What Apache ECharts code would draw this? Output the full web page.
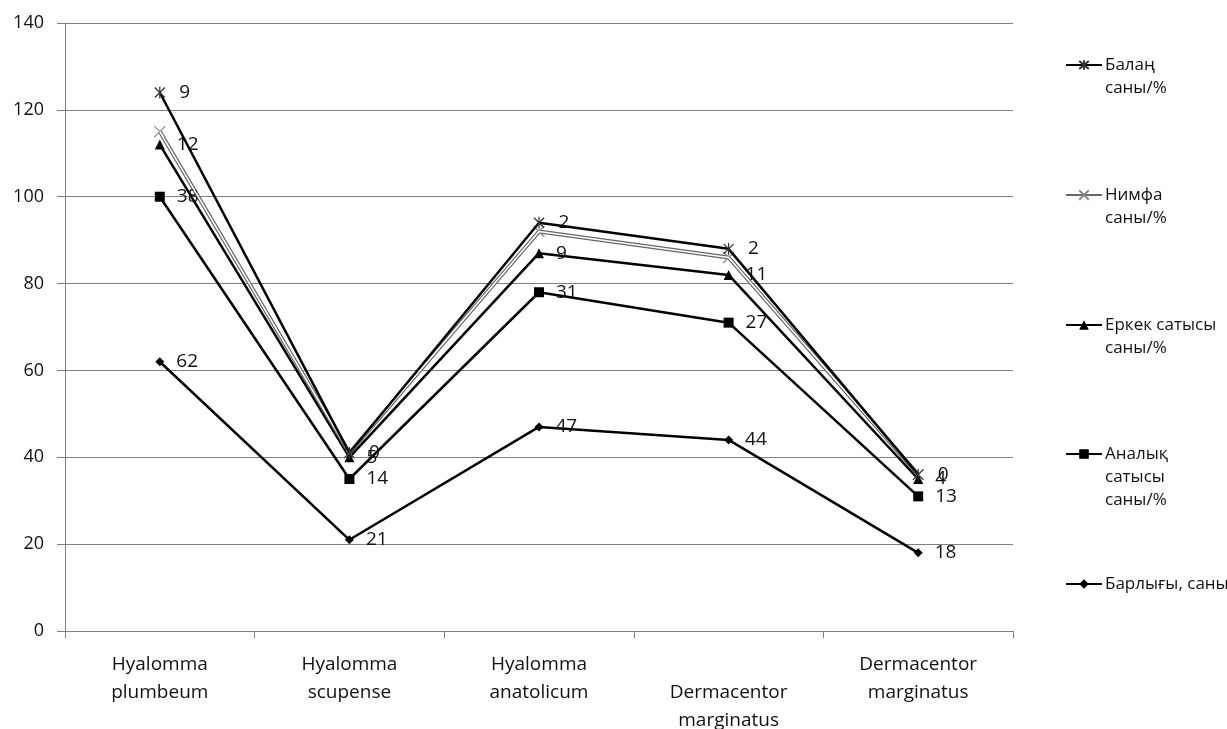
<!DOCTYPE html>
<html><head><meta charset="utf-8">
<script src="https://cdn.jsdelivr.net/npm/echarts@6/dist/echarts.min.js"></script>
<style>html,body{margin:0;padding:0;background:#fff}#c{width:1227px;height:729px}</style>
</head><body><div id="c"></div>
<script>
const categories = ['Hyalomma plumbeum','Hyalomma scupense','Hyalomma anatolicum','Dermacentor marginatus','Dermacentor marginatus '];
const barlygy = [62, 21, 47, 44, 18];
const analyq = [38, 14, 31, 27, 13];
const erkek = [12, 5, 9, 11, 4];
const nimfa = [3, 1, 5, 4, 1];
const balan = [9, 0, 2, 2, 0];
const yTicks = {min: 0, max: 140, interval: 20};

const names = {
  balan: 'Балаң саны/%',
  nimfa: 'Нимфа саны/%',
  erkek: 'Еркек сатысы саны/%',
  analyq: 'Аналық сатысы саны/%',
  barlygy: 'Барлығы, саны'
};
const legendText = {
  'Балаң саны/%': 'Балаң\nсаны/%',
  'Нимфа саны/%': 'Нимфа\nсаны/%',
  'Еркек сатысы саны/%': 'Еркек сатысы\nсаны/%',
  'Аналық сатысы саны/%': 'Аналық\nсатысы\nсаны/%',
  'Барлығы, саны': 'Барлығы, саны'
};
const FONT = 'Open Sans';
const LH = 23;
const lbl = {show: true, position: 'right', distance: 12, color: '#111', fontSize: 19, fontFamily: FONT};

function mkLegend(name, iconY) {
  const n = legendText[name].split('\n').length;
  return {
    data: [name], orient: 'vertical', left: 1065, top: iconY - (2 * n - 1) * LH / 2,
    padding: 0, itemWidth: 36, itemHeight: 12, itemGap: 0,
    textStyle: {fontSize: 17, fontFamily: FONT, color: '#111', lineHeight: LH, padding: [0, 0, 0, -2]},
    formatter: nm => '\n'.repeat(n - 1) + legendText[nm],
    align: 'left'
  };
}

const chart = echarts.init(document.getElementById('c'), null, {renderer: 'canvas'});
chart.setOption({
  animation: false,
  grid: {left: 65, right: 214, top: 23, bottom: 98, outerBoundsMode: 'none', containLabel: false},
  legend: [
    mkLegend(names.balan, 65),
    mkLegend(names.nimfa, 195),
    mkLegend(names.erkek, 325),
    mkLegend(names.analyq, 454),
    mkLegend(names.barlygy, 584)
  ],
  xAxis: {
    type: 'category', data: categories, boundaryGap: true,
    axisLine: {lineStyle: {color: '#808080', width: 1}},
    axisTick: {show: true, length: 7, lineStyle: {color: '#808080'}},
    axisLabel: {color: '#111', fontSize: 19, fontFamily: FONT, margin: 20, lineHeight: 28,
      formatter: (v, i) => (i === 3 ? '\n' : '') + v.trim().replace(' ', '\n')}
  },
  yAxis: {
    type: 'value', min: yTicks.min, max: yTicks.max, interval: yTicks.interval,
    axisLine: {show: true, lineStyle: {color: '#808080'}},
    axisTick: {show: true, length: 8, lineStyle: {color: '#808080'}},
    splitLine: {lineStyle: {color: '#808080', width: 1}},
    axisLabel: {color: '#111', fontSize: 18, fontFamily: FONT, margin: 21}
  },
  series: [
    {name: names.barlygy, type: 'line', stack: 't', data: barlygy,
      symbol: 'diamond', symbolSize: 9, lineStyle: {color: '#000', width: 2.5},
      itemStyle: {color: '#000'}, label: lbl, z: 3},
    {name: names.analyq, type: 'line', stack: 't', data: analyq,
      symbol: 'rect', symbolSize: 10, lineStyle: {color: '#000', width: 2.5},
      itemStyle: {color: '#000'}, label: lbl, z: 3},
    {name: names.erkek, type: 'line', stack: 't', data: erkek,
      symbol: 'triangle', symbolSize: 10, lineStyle: {color: '#000', width: 2.5},
      itemStyle: {color: '#000'}, label: lbl, z: 3},
    {name: names.nimfa, type: 'line', stack: 't', data: nimfa,
      symbol: 'path://M0,0L10,10M10,0L0,10', symbolSize: 11, symbolKeepAspect: true,
      lineStyle: {color: '#666', width: 4},
      itemStyle: {color: 'none', borderColor: '#888', borderWidth: 1.2}, label: {show: false}, z: 3},
    {name: 'inner', type: 'line', stack: 't2', data: barlygy.map((v,i)=>v+analyq[i]+erkek[i]+nimfa[i]),
      symbol: 'none', lineStyle: {color: '#fff', width: 1.6}, silent: true, z: 4},
    {name: names.balan, type: 'line', stack: 't', data: balan,
      symbol: 'path://M0,0L10,10M10,0L0,10M5,-1L5,11', symbolSize: 12, symbolKeepAspect: true,
      lineStyle: {color: '#000', width: 2.5},
      itemStyle: {color: 'none', borderColor: '#333', borderWidth: 1.2}, label: lbl, z: 5}
  ]
});
</script></body></html>
